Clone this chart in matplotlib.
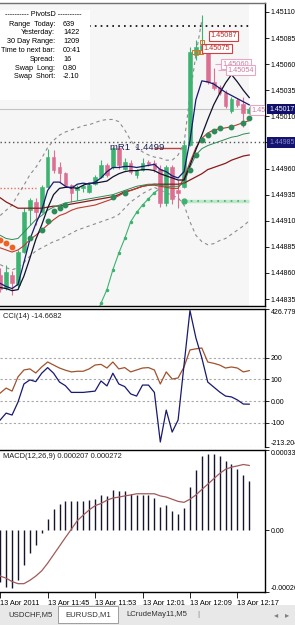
import matplotlib
matplotlib.use("Agg")
import matplotlib.pyplot as plt
import numpy as np
from matplotlib.patches import Rectangle

nan = np.nan
plt.rcParams['font.family'] = ['Liberation Sans', 'DejaVu Sans']

# EURUSD M1, 13 Apr 2011 11:37 .. 12:19
opens = [1.44858, 1.44846, 1.44858, 1.44848, 1.44880, 1.44920, 1.44928, 1.44918, 1.44942, 1.44971,
         1.44961, 1.44956, 1.44944, 1.44939, 1.44941, 1.44938, 1.44945, 1.44952, 1.44963, 1.44961,
         1.44980, 1.44960, 1.44965, 1.44954, 1.44959, 1.44966, 1.44965, 1.44960, 1.44927, 1.44961,
         1.44939, 1.44942, 1.44983, 1.45069, 1.45074, 1.45074, 1.45043, 1.45038, 1.45032, 1.45015,
         1.45026, 1.45022, 1.45013]
highs = [1.44865, 1.44868, 1.44862, 1.44882, 1.44922, 1.44932, 1.44932, 1.44944, 1.44979, 1.44978,
         1.44966, 1.44957, 1.44945, 1.44944, 1.44945, 1.44946, 1.44954, 1.44968, 1.44965, 1.44981,
         1.44982, 1.44970, 1.44968, 1.44960, 1.44970, 1.44968, 1.44968, 1.44963, 1.44963, 1.44963,
         1.44949, 1.44987, 1.45076, 1.45083, 1.45107, 1.45076, 1.45056, 1.45040, 1.45035, 1.45029,
         1.45028, 1.45029, 1.45019]
lows = [1.44842, 1.44844, 1.44839, 1.44845, 1.44879, 1.44906, 1.44906, 1.44917, 1.44941, 1.44956,
        1.44947, 1.44942, 1.44928, 1.44930, 1.44938, 1.44937, 1.44944, 1.44951, 1.44952, 1.44960,
        1.44960, 1.44959, 1.44955, 1.44951, 1.44958, 1.44962, 1.44957, 1.44923, 1.44924, 1.44926,
        1.44922, 1.44941, 1.44982, 1.45064, 1.45072, 1.45041, 1.45035, 1.45030, 1.45018, 1.45013,
        1.45019, 1.45000, 1.45012]
closes = [1.44845, 1.44861, 1.44850, 1.44880, 1.44918, 1.44930, 1.44918, 1.44942, 1.44971, 1.44959,
          1.44956, 1.44944, 1.44937, 1.44942, 1.44943, 1.44944, 1.44952, 1.44963, 1.44954, 1.44980,
          1.44963, 1.44966, 1.44957, 1.44959, 1.44965, 1.44964, 1.44960, 1.44927, 1.44961, 1.44931,
          1.44937, 1.44983, 1.45072, 1.45076, 1.45078, 1.45043, 1.45037, 1.45032, 1.45020, 1.45027,
          1.45021, 1.45013, 1.45017]

ma_fast = [1.44850, 1.44847, 1.44845, 1.44849, 1.44870, 1.44892, 1.44907, 1.44920, 1.44939, 1.44947,
           1.44947, 1.44943, 1.44941, 1.44945, 1.44946, 1.44945, 1.44947, 1.44951, 1.44957, 1.44961,
           1.44961, 1.44962, 1.44962, 1.44961, 1.44962, 1.44963, 1.44964, 1.44959, 1.44957, 1.44953,
           1.44951, 1.44957, 1.44987, 1.45026, 1.45044, 1.45043, 1.45041, 1.45037, 1.45033, 1.45030,
           1.45027, 1.45024, 1.45021]
ma_slow = [1.44846, 1.44845, 1.44843, 1.44844, 1.44857, 1.44874, 1.44892, 1.44906, 1.44922, 1.44935,
           1.44941, 1.44942, 1.44942, 1.44941, 1.44944, 1.44946, 1.44946, 1.44947, 1.44948, 1.44952,
           1.44955, 1.44957, 1.44958, 1.44958, 1.44959, 1.44959, 1.44958, 1.44955, 1.44953, 1.44951,
           1.44949, 1.44949, 1.44963, 1.44978, 1.44992, 1.45007, 1.45021, 1.45032, 1.45042, 1.45050,
           1.45043, 1.45035, 1.45028]
band_up = [1.44915, 1.44920, 1.44925, 1.44935, 1.44944, 1.44954, 1.44961, 1.44970, 1.44980, 1.44987,
           1.44992, 1.44995, 1.44997, 1.44999, 1.45001, 1.45002, 1.45004, 1.45006, 1.45007, 1.45007,
           1.45005, 1.44997, 1.44987, 1.44980, 1.44976, 1.44973, 1.44971, 1.44970, 1.44968, 1.44968,
           1.44973, 1.44984, 1.45030, 1.45069, 1.45102, nan, nan, nan, nan, nan,
           nan, nan, nan]
band_lo = [1.44868, 1.44865, 1.44863, 1.44865, 1.44870, 1.44876, 1.44881, 1.44884, 1.44887, 1.44890,
           1.44892, 1.44895, 1.44898, 1.44901, 1.44903, 1.44905, 1.44907, 1.44909, 1.44911, 1.44913,
           1.44916, 1.44922, 1.44928, 1.44932, 1.44936, 1.44939, 1.44942, 1.44939, 1.44937, 1.44934,
           1.44932, 1.44925, 1.44909, 1.44896, 1.44890, 1.44887, 1.44888, 1.44891, 1.44893, 1.44897,
           1.44901, 1.44905, 1.44910]
ma_maroon = [1.44932, 1.44928, 1.44925, 1.44922, 1.44922, 1.44922, 1.44922, 1.44922, 1.44923, 1.44924,
             1.44924, 1.44925, 1.44926, 1.44927, 1.44928, 1.44929, 1.44930, 1.44931, 1.44932, 1.44933,
             1.44935, 1.44938, 1.44939, 1.44941, 1.44943, 1.44944, 1.44945, 1.44945, 1.44945, 1.44945,
             1.44945, 1.44946, 1.44949, 1.44952, 1.44955, 1.44959, 1.44961, 1.44963, 1.44965, 1.44968,
             1.44970, 1.44972, 1.44973]
ma_red = [1.44884, 1.44882, 1.44880, 1.44882, 1.44886, 1.44892, 1.44896, 1.44901, 1.44906, 1.44911,
          1.44915, 1.44917, 1.44920, 1.44922, 1.44923, 1.44924, 1.44925, 1.44927, 1.44929, 1.44931,
          1.44934, 1.44937, 1.44939, 1.44941, 1.44943, 1.44944, 1.44944, 1.44943, 1.44942, 1.44941,
          1.44941, 1.44951, 1.44966, 1.44980, 1.44989, 1.44994, 1.44997, 1.44998, 1.44999, 1.45000,
          1.45002, 1.45004, 1.45006]
ma_green = [1.44896, 1.44893, 1.44892, 1.44893, 1.44899, 1.44905, 1.44911, 1.44915, 1.44920, 1.44923,
            1.44925, 1.44927, 1.44928, 1.44929, 1.44930, 1.44931, 1.44932, 1.44933, 1.44934, 1.44935,
            1.44937, 1.44939, 1.44941, 1.44943, 1.44944, 1.44945, 1.44945, 1.44944, 1.44943, 1.44943,
            1.44943, 1.44946, 1.44961, 1.44973, 1.44979, 1.44982, 1.44984, 1.44986, 1.44988, 1.44990,
            1.44991, 1.44993, 1.44994]
trail_green = [nan] * 16 + [1.44817, 1.44831, 1.44844, 1.44863, 1.44879, 1.44893, 1.44909, 1.44918,
                            1.44925, 1.44931, 1.44937, 1.44941] + [nan] * 15
dots_green = [nan, nan, nan, nan, nan, 1.44893, nan, 1.44901, 1.44910, 1.44919,
              1.44922, 1.44925, nan, nan, nan, nan, nan, nan, nan, 1.44933,
              nan, 1.44937, nan, nan, nan, nan, nan, nan, nan, nan,
              nan, nan, 1.44959, 1.44973, 1.44987, 1.44992, 1.44996, 1.44999, nan, 1.45000,
              nan, 1.45004, 1.45008]
dots_orange = [1.44892, 1.44889, 1.44885] + [nan] * 40

bid = 1.45017
mr1_level = 1.44985
high_line = 1.45097
support = 1.44929
old_level = 1.44941

price_ticks = [1.45110, 1.45085, 1.45060, 1.45035, 1.45010, 1.44985,
               1.44960, 1.44935, 1.44910, 1.44885, 1.44860, 1.44835]

cci = [-88, -56, -65, -5, 79, 98, 90, 129, 155, 129,
       88, 71, 40, 40, 40, 43, 46, 93, 70, 129,
       79, 67, 33, 23, 74, 74, 40, -190, -42, -144,
       -88, 167, 420, 293, 200, 88, 65, 42, 23, 19,
       5, -14, -14.67]
cci_sig = [37, 60, 46, 112, 144, 149, 130, 158, 181, 167,
           153, 143, 135, 138, 138, 149, 167, 170, 153, 181,
           149, 155, 135, 144, 153, 155, 144, 79, 135, 102,
           107, 158, 237, 242, 246, 181, 175, 167, 153, 158,
           153, 135, 141]

macd = [-0.000220, -0.000238, -0.000243, -0.000211, -0.000148, -0.000094, -0.000063, -0.000012, 0.000049, 0.000090,
        0.000108, 0.000121, 0.000121, 0.000124, 0.000124, 0.000127, 0.000130, 0.000148, 0.000144, 0.000168,
        0.000163, 0.000166, 0.000153, 0.000148, 0.000148, 0.000148, 0.000135, 0.000097, 0.000105, 0.000082,
        0.000067, 0.000093, 0.000180, 0.000255, 0.000312, 0.000322, 0.000322, 0.000312, 0.000292, 0.000277,
        0.000258, 0.000232, 0.000207]
macd_sig = [-0.000193, -0.000202, -0.000216, -0.000225, -0.000225, -0.000211, -0.000193, -0.000171, -0.000139, -0.000103,
            -0.000067, -0.000031, 0.000004, 0.000040, 0.000063, 0.000085, 0.000103, 0.000112, 0.000126, 0.000135,
            0.000139, 0.000144, 0.000148, 0.000153, 0.000153, 0.000153, 0.000153, 0.000144, 0.000139, 0.000130,
            0.000121, 0.000117, 0.000130, 0.000148, 0.000171, 0.000193, 0.000216, 0.000238, 0.000256, 0.000265,
            0.000270, 0.000276, 0.000272]

time_ticks = [0, 8, 16, 24, 32, 40]
time_labels = ['13 Apr 2011', '13 Apr 11:45', '13 Apr 11:53', '13 Apr 12:01', '13 Apr 12:09', '13 Apr 12:17']

info_rows = [('Range  Today:', '639'), ('Yesterday:', '1422'), ('30 Day Range:', '1209'),
             ('Time to next bar:', '00:41'), ('Spread:', '16'), ('Swap  Long:', '0.80'),
             ('Swap  Short:', '-2.10')]
tabs = ['USDCHF,M5', 'EURUSD,M1', 'LCrudeMay11,M5']

W, H = 295, 625
fig = plt.figure(figsize=(W / 100, H / 100), dpi=100)
fig.patch.set_facecolor('white')


def box(x0, y0, x1, y1):
    return [x0 / W, 1 - y1 / H, (x1 - x0) / W, (y1 - y0) / H]


ax1 = fig.add_axes(box(0, 3, 265, 306))
ax2 = fig.add_axes(box(0, 309, 265, 447))
ax3 = fig.add_axes(box(0, 450, 265, 592))

x = np.arange(len(opens))
o, h, l, c = map(np.array, (opens, highs, lows, closes))

for ax in (ax1, ax2, ax3):
    ax.set_xlim(-0.2 / 5.93, 264.8 / 5.93)
    ax.set_facecolor('white')
    ax.spines['left'].set_visible(False)
    for s in ('right', 'top', 'bottom'):
        ax.spines[s].set_linewidth(1)
        ax.spines[s].set_color('black')
    ax.tick_params(axis='y', left=False, labelleft=False, right=True, labelright=True,
                   length=3, width=0.6, pad=1, labelsize=5.0)
    ax.tick_params(axis='x', bottom=False, labelbottom=False)
ax2.spines['bottom'].set_visible(False)
ax1.spines['top'].set_color('#707070')

# ---- main price panel
ax1.set_ylim(1.448283, 1.451186)
ax1.axvspan(-1, 41.96, color='#f6f6f6', zorder=0, lw=0)
ax1.set_yticks(price_ticks)
# the 1.44985 level gets its own highlighted box below
ax1.set_yticklabels(['' if p == mr1_level else '%.5f' % p for p in price_ticks])

ax1.axhline(bid, color='#c4c4c4', lw=0.8, zorder=1)
ax1.axhline(mr1_level, color='#555555', lw=1, ls=(0, (1, 2)), zorder=1)
ax1.hlines(high_line, 15, 42, color='black', lw=1.2, ls=(0, (1, 2.5)), zorder=2)
ax1.hlines(old_level, 0, 6, color='#e07060', lw=1, ls=(0, (1, 1.5)), zorder=2)
ax1.hlines(support, 31, 42, color='#bfe8c9', lw=2.5, zorder=2)
ax1.hlines(support, 31, 42, color='#3cb371', lw=1.2, ls=(0, (1, 3)), zorder=2)
ax1.plot([31], [support], 'o', color='#3cb371', ms=3.5, zorder=6)
ax1.hlines(1.44980, 26, 31, color='#c04040', lw=1, zorder=2)

ax1.plot(x, band_up, color='#8c8c8c', lw=0.8, ls=(0, (3, 3)), zorder=2)
ax1.plot(x, band_lo, color='#8c8c8c', lw=0.8, ls=(0, (3, 3)), zorder=2)
ax1.plot(x, trail_green, color='#3cb371', lw=0.8, marker='o', ms=1.5, zorder=2)

cols = np.where(c >= o, '#3cb371', '#db7093')
ax1.vlines(x, l, h, colors=cols, lw=0.8, zorder=3)
ax1.bar(x, np.abs(c - o), bottom=np.minimum(o, c), width=0.62, color=cols,
        edgecolor=cols, lw=0.4, zorder=4)

ax1.plot(x, ma_maroon, color='#8b1a1a', lw=0.9, zorder=5)
ax1.plot(x, ma_red, color='#c0392b', lw=0.8, zorder=5)
ax1.plot(x, ma_green, color='#2e8b57', lw=0.7, zorder=5)
ax1.plot(x, ma_slow, color='#10102a', lw=0.9, zorder=5)
ax1.plot(x, ma_fast, color='#191970', lw=0.9, zorder=5)
ax1.plot(x, dots_green, 'o', ls='none', color='#2e8b57', ms=3.2, zorder=6)
ax1.plot(x, dots_orange, 'o', ls='none', color='#f06020', ms=3.2, zorder=6)
ax1.plot([32.7, 33.3, 33.9, 34.0], [1.45072, 1.45072, 1.45072, 1.45081], 's', mfc='none',
         mec='#e07020', ms=3, mew=0.7, zorder=7)

red_box = dict(boxstyle='square,pad=0.2', fc='white', ec='#d04040', lw=0.8)
pink_box = dict(boxstyle='square,pad=0.2', fc='white', ec='#e6a6c6', lw=0.8)
ax1.text(35.4, 1.45087, '1.45087', fontsize=5.3, color='#c03030', va='center', bbox=red_box, zorder=8)
ax1.text(34.3, 1.45075, '1.45075', fontsize=5.3, color='#c03030', va='center', bbox=red_box, zorder=8)
ax1.hlines(1.45060, 36.2, 37.3, color='#e6a6c6', lw=0.8, zorder=8)
ax1.hlines(1.45054, 36.7, 38.1, color='#e6a6c6', lw=0.8, zorder=8)
ax1.text(37.5, 1.45060, '1.45060', fontsize=5.3, color='#c87fa0', va='center', bbox=pink_box, zorder=8)
ax1.text(38.3, 1.45054, '1.45054', fontsize=5.3, color='#c87fa0', va='center', bbox=pink_box, zorder=8)
ax1.text(42.3, 1.45016, '1.45017', fontsize=5.3, color='#c87fa0', va='center', bbox=pink_box,
         zorder=8, clip_on=True)
ax1.text(18.6, 1.44980, 'mR1  1.4499', fontsize=6.8, color='#1e1e50', va='center', zorder=8)

ytr = ax1.get_yaxis_transform()
ax1.text(1.015, bid, '1.45017', transform=ytr, fontsize=5.0, color='white', va='center',
         bbox=dict(boxstyle='square,pad=0.25', fc='#10106a', ec='none'), clip_on=False, zorder=10)
ax1.text(1.015, mr1_level, '1.44985', transform=ytr, fontsize=5.0, color='#8a8ad8', va='center',
         bbox=dict(boxstyle='square,pad=0.25', fc='#14146e', ec='none'), clip_on=False, zorder=10)

# ---- CCI panel
ax2.set_ylim(-213.204, 426.7793)
for lv in (200, 100, 0, -100, -213.204):
    ax2.axhline(lv, color='#a8a8a8', lw=0.8, ls=(0, (2, 2)), zorder=1)
ax2.plot(x, cci_sig, color='#a0522d', lw=0.9, zorder=3)
ax2.plot(x, cci, color='#191970', lw=0.9, zorder=4)
ax2.set_yticks([426.7793, 200, 100, 0, -100, -213.204])
ax2.set_yticklabels(['426.7793', '200', '100', '0.00', '-100', '-213.204'])
tl = ax2.get_yticklabels()
tl[0].set_va('top')
tl[-1].set_va('bottom')

# ---- MACD panel
ax3.set_ylim(-0.00026, 0.000337)
ax3.vlines(x, 0, macd, color='#14142c', lw=1.0, zorder=3)
ax3.plot(x, macd_sig, color='#a05a5a', lw=0.9, zorder=4)
ax3.set_yticks([0.000337, 0, -0.00026])
ax3.set_yticklabels(['0.000337', '0.00', '-0.00026'])
tl = ax3.get_yticklabels()
tl[0].set_va('top')
tl[-1].set_va('bottom')
ax3.set_xticks(time_ticks)
ax3.set_xticklabels(time_labels)
ax3.tick_params(axis='x', bottom=True, labelbottom=True, length=4, width=0.6, pad=1.5, labelsize=5.3)
for t in ax3.get_xticklabels():
    t.set_ha('left')

# ---- panel captions
fig.text(3 / W, 1 - 316 / H, 'CCI(14) -14.6682', fontsize=5.4, va='center', color='#202020')
fig.text(3 / W, 1 - 457 / H, 'MACD(12,26,9) 0.000207 0.000272', fontsize=5.4, va='center', color='#202020')

# ---- PivotsD info box
fig.add_artist(Rectangle((0, 1 - 100 / H), 90 / W, 90 / H, transform=fig.transFigure,
                         fc='white', ec='none', zorder=2))
fig.text(43 / W, 1 - 15 / H, '---------- PivotsD ----------', fontsize=5.2, ha='center', va='center', zorder=3)
for k, (lab, val) in enumerate(info_rows):
    yy = 1 - (24 + 8.8 * k) / H
    fig.text(55 / W, yy, lab, fontsize=5.2, ha='right', va='center', zorder=3)
    fig.text(63 / W, yy, val, fontsize=5.2, ha='left', va='center', zorder=3)

# ---- tab strip
fig.add_artist(Rectangle((0, 0), 1, 20 / H, transform=fig.transFigure, fc='#e8e8e8', ec='none'))
fig.add_artist(Rectangle((58 / W, 2 / H), 60 / W, 17 / H, transform=fig.transFigure,
                         fc='white', ec='#909090', lw=0.6))
for cx, name in zip((30, 88, 157), tabs):
    fig.text(cx / W, 1 - 615 / H, name, fontsize=5.6, ha='center', va='center', color='#303030')
fig.text(198 / W, 1 - 615 / H, '|', fontsize=6, ha='center', va='center', color='#808080')
fig.text(276 / W, 1 - 615 / H, '◂', fontsize=6, ha='center', va='center', color='#808080',
         family='DejaVu Sans')
fig.text(287 / W, 1 - 615 / H, '▸', fontsize=6, ha='center', va='center', color='#808080',
         family='DejaVu Sans')

fig.savefig('out.png', dpi=100)
